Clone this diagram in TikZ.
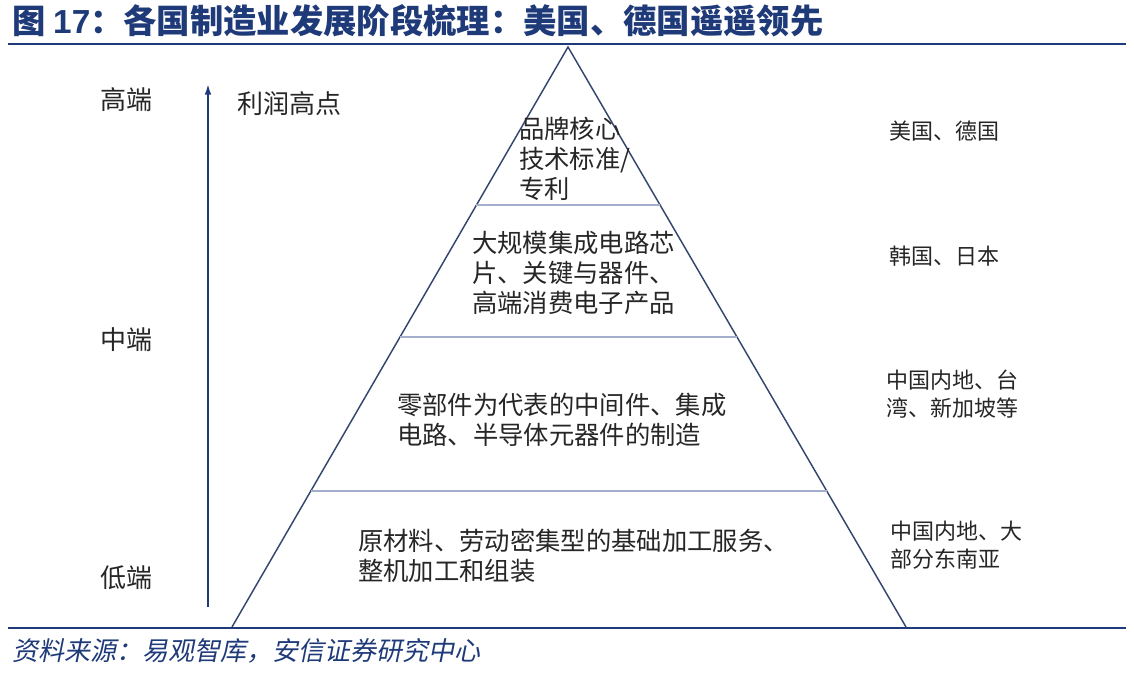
\documentclass[tikz,border=0pt]{standalone}
\usepackage{fontspec}
\setmainfont{Liberation Sans}
\newfontfamily\cjk{Noto Sans CJK SC}
\newfontfamily\cjkslant{Noto Sans CJK SC}[FakeSlant=0.2]
\usepackage{tikz}
\usetikzlibrary{arrows.meta,calc}
\definecolor{navy}{HTML}{1F3A78}
\definecolor{edgeblue}{HTML}{34466F}
\definecolor{divblue}{HTML}{A3AFCB}
\definecolor{ink}{HTML}{262626}

\begin{document}
\begin{tikzpicture}[
          x=0.75pt,y=-0.75pt,
          every node/.style={inner sep=0pt,text=ink},
          lvl/.style={anchor=west,align=left,font=\cjk\fontsize{19}{22.5}\selectfont},
          region/.style={anchor=west,align=left,font=\cjk\fontsize{16.5}{20.5}\selectfont},
          tier/.style={anchor=west,font=\cjk\fontsize{19.5}{22}\selectfont},
          edge/.style={draw=edgeblue,line width=1.1pt,line join=miter},
          divline/.style={draw=divblue,line width=1.1pt},
          rule/.style={draw=navy,line width=1.6pt},
          arr/.style={-{Latex[length=8pt,width=5pt]},draw=navy,line width=1.3pt}
      ]
        \useasboundingbox (0,0) rectangle (1134,676);

        % title and rules
        \node[anchor=base west,text=navy] (title) at (12,33)
          {\fontsize{25}{28}\selectfont{\cjk\bfseries 图 }{\bfseries 17}{\cjk\bfseries ：各国制造业发展阶段梳理：美国、德国遥遥领先}};
        \coordinate (topl) at (8,44);
        \coordinate (topr) at (1126,44);
        \draw[rule] (topl) -- (topr);
        \coordinate (botl) at (8,628);
        \coordinate (botr) at (1126,628);
        \draw[rule,line width=2.2pt] (botl) -- (botr);
        \node[anchor=base west,text=navy] (source) at (12,660)
          {\cjkslant\fontsize{19.5}{22}\selectfont 资料来源：易观智库，安信证券研究中心};

        % pyramid
        \coordinate (apex) at (568,47);
        \coordinate (bl) at (232,627);
        \coordinate (br) at (906,627);
        \draw[edge] (bl) -- (apex) -- (br);
        \draw[divline] ($(apex)!0.2724!(bl)$) -- ($(apex)!0.2724!(br)$);
        \draw[divline] ($(apex)!0.5!(bl)$) -- ($(apex)!0.5!(br)$);
        \draw[divline] ($(apex)!0.7655!(bl)$) -- ($(apex)!0.7655!(br)$);

        % profit axis
        \coordinate (axbot) at (208,607);
        \coordinate (axtop) at (208,84);
        \draw[arr] (axbot) -- (axtop);
        \node[tier] (high) at (100,100) {高端};
        \node[tier] (mid) at (100,340) {中端};
        \node[tier] (low) at (100,578) {低端};
        \node[tier] (profit) at (237,104) {利润高点};

        % levels
        \node[lvl] (brand) at (519,159) {品牌核心\\技术标准/\\专利};
        \node[lvl] (chips) at (472,273) {大规模集成电路芯\\片、关键与器件、\\高端消费电子产品};
        \node[lvl] (parts) at (397,420) {零部件为代表的中间件、集成\\电路、半导体元器件的制造};
        \node[lvl] (basic) at (358,556) {原材料、劳动密集型的基础加工服务、\\整机加工和组装};

        % regions
        \node[region] (usde) at (889,131) {美国、德国};
        \node[region] (krjp) at (889,256) {韩国、日本};
        \node[region] (cntw) at (886,394) {中国内地、台\\湾、新加坡等};
        \node[region] (cnsea) at (890,545) {中国内地、大\\部分东南亚};
      \end{tikzpicture}
\end{document}
